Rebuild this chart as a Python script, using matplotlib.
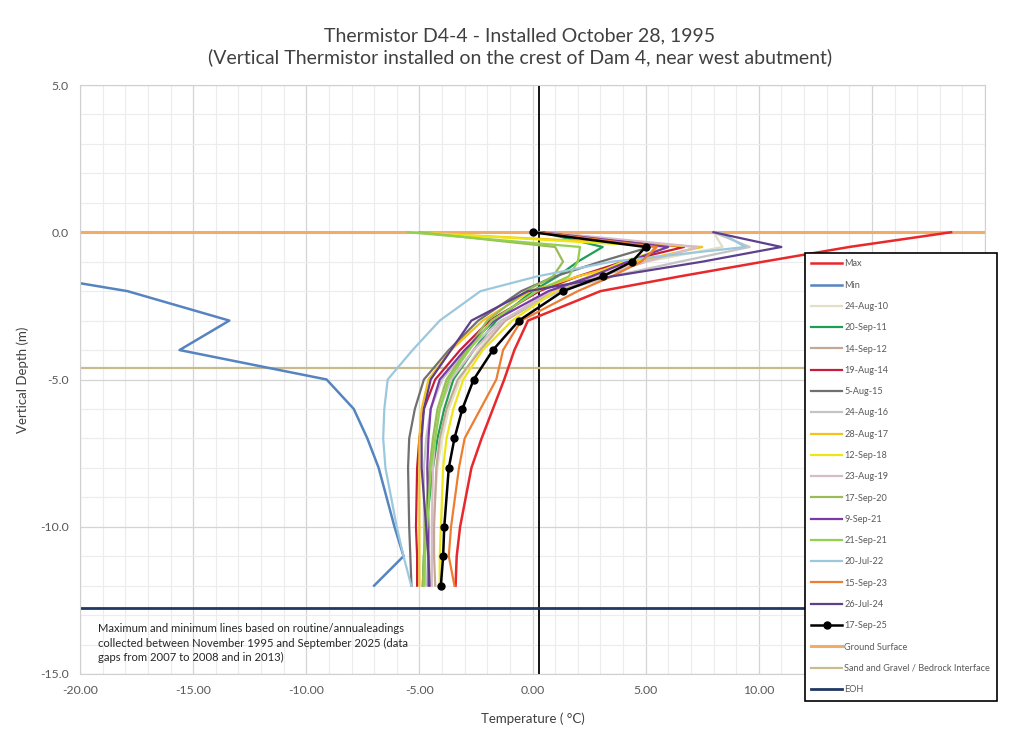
import numpy as np
import matplotlib
matplotlib.use("Agg")
import matplotlib.pyplot as plt
from matplotlib.ticker import MultipleLocator

plt.rcParams['font.family'] = ['Lato', 'DejaVu Sans']

# profundidades dos nós do termistor (m)
depths = [0, -0.5, -1, -1.5, -2, -3, -4, -5, -6, -7, -8, -10, -11, -12]

# temperaturas (°C) por leitura
t_max = [18.5, 14.0, 10.2, 6.5, 3.0, -0.2, -0.8, -1.25, -1.75, -2.25, -2.7, -3.2, -3.35, -3.4]
t_min = [-26.0, -25.0, -24.0, -21.8, -17.9, -13.4, -15.6, -9.1, -7.9, -7.3, -6.8, -6.1, -5.7, -7.0]
t_aug10 = [8.0, 8.4, 5.0, 2.5, 0.8, -1.3, -2.4, -3.2, -3.7, -4.0, -4.2, -4.4, -4.45, -4.5]
t_sep11 = [0.4, 3.1, 2.0, 1.1, 0.0, -1.6, -2.6, -3.5, -3.9, -4.2, -4.4, -4.7, -4.8, -4.85]
t_sep12 = [0.2, 5.4, 5.0, 3.0, 1.0, -1.2, -2.3, -3.3, -3.8, -4.1, -4.25, -4.35, -4.35, -4.3]
t_aug14 = [0.5, 6.7, 4.0, 2.0, 0.3, -1.9, -3.2, -4.3, -4.8, -5.0, -5.1, -5.15, -5.1, -5.1]
t_aug15 = [0.3, 5.2, 3.0, 1.0, -0.5, -2.4, -3.7, -4.8, -5.2, -5.45, -5.5, -5.45, -5.4, -5.35]
t_aug16 = [8.0, 9.6, 6.5, 3.5, 1.2, -1.4, -2.9, -4.0, -4.5, -4.7, -4.8, -4.8, -4.75, -4.7]
t_aug17 = [-5.5, 7.5, 4.5, 2.0, -0.1, -2.2, -3.6, -4.6, -4.9, -5.0, -5.0, -5.0, -5.0, -5.0]
t_sep18 = [-5.3, 6.0, 4.0, 2.5, 1.0, -0.9, -2.2, -3.06, -3.5, -3.8, -3.95, -4.05, -4.1, -4.1]
t_aug19 = [0.6, 7.3, 5.0, 2.8, 0.8, -1.3, -2.6, -3.6, -4.1, -4.3, -4.4, -4.45, -4.45, -4.45]
t_sep20 = [-5.0, 1.0, 1.35, 0.9, -0.3, -2.0, -2.9, -3.8, -4.2, -4.4, -4.55, -4.75, -4.8, -4.85]
t_sep21a = [0.4, 6.0, 4.2, 2.6, 0.7, -1.7, -3.0, -4.1, -4.5, -4.6, -4.65, -4.6, -4.6, -4.6]
t_sep21b = [-5.5, 2.1, 2.0, 1.6, 0.2, -1.8, -2.8, -3.7, -4.1, -4.3, -4.5, -4.65, -4.75, -4.8]
t_jul22 = [8.3, 9.4, 3.5, 0.2, -2.3, -4.1, -5.3, -6.4, -6.55, -6.6, -6.5, -6.0, -5.7, -5.36]
t_sep23 = [0.3, 5.5, 4.8, 3.5, 2.0, -0.5, -1.3, -1.6, -2.3, -3.0, -3.25, -3.6, -3.7, -3.45]
t_jul24 = [8.0, 11.0, 7.5, 3.5, -0.2, -2.7, -3.6, -4.5, -4.8, -4.9, -4.9, -4.7, -4.6, -4.55]
t_sep25 = [0.0, 5.0, 4.4, 3.1, 1.35, -0.6, -1.75, -2.6, -3.1, -3.45, -3.7, -3.9, -3.95, -4.05]

# linhas de referência (m)
ground_surface = 0.0
interface_depth = -4.6
eoh_depth = -12.75
zero_line = 0.3

series = [
    ("Max", t_max, "#e8282b", 1.8),
    ("Min", t_min, "#5584c0", 1.8),
    ("24-Aug-10", t_aug10, "#e2dfc4", 1.6),
    ("20-Sep-11", t_sep11, "#1e9e55", 1.6),
    ("14-Sep-12", t_sep12, "#c4a896", 1.6),
    ("19-Aug-14", t_aug14, "#c41e3a", 1.6),
    ("5-Aug-15", t_aug15, "#707070", 1.6),
    ("24-Aug-16", t_aug16, "#c4c4c4", 1.6),
    ("28-Aug-17", t_aug17, "#f5c21b", 1.6),
    ("12-Sep-18", t_sep18, "#eee614", 1.6),
    ("23-Aug-19", t_aug19, "#d6bcc6", 1.6),
    ("17-Sep-20", t_sep20, "#9bbb59", 1.6),
    ("9-Sep-21", t_sep21a, "#7a3aa6", 1.6),
    ("21-Sep-21", t_sep21b, "#92d050", 1.6),
    ("20-Jul-22", t_jul22, "#9cc8de", 1.6),
    ("15-Sep-23", t_sep23, "#ed7d31", 1.6),
    ("26-Jul-24", t_jul24, "#5e3f8c", 1.6),
]

fig = plt.figure(figsize=(10.09, 7.40), dpi=100)
ax = fig.add_axes([80 / 1009, 1 - 674 / 740, 905 / 1009, 589 / 740])

ax.set_xlim(-20, 20)
ax.set_ylim(-15, 5)
ax.xaxis.set_major_locator(MultipleLocator(5))
ax.xaxis.set_minor_locator(MultipleLocator(1))
ax.yaxis.set_major_locator(MultipleLocator(5))
ax.yaxis.set_minor_locator(MultipleLocator(1))
ax.grid(which='major', color='#d4d4d4', lw=0.9)
ax.grid(which='minor', color='#ececec', lw=0.8)
ax.set_axisbelow(True)
ax.tick_params(which='both', length=0, labelsize=8.8, colors='#595959', pad=8)
# 15.00 e 20.00 ficam escondidos atrás da legenda
ax.xaxis.set_major_formatter(lambda v, p: f"{v:.2f}" if v < 12 else "")
ax.yaxis.set_major_formatter(lambda v, p: f"{v:.1f}")
for s in ax.spines.values():
    s.set_color('#d0d0d0')
    s.set_linewidth(0.8)

ax.axvline(zero_line, color='black', lw=1.3, zorder=1)

handles = []
for nome, temps, cor, lw in series:
    h, = ax.plot(temps, depths, color=cor, lw=lw, label=nome, zorder=2)
    handles.append(h)
h, = ax.plot(t_sep25, depths, color='black', lw=1.8, marker='o', markersize=5,
             label='17-Sep-25', zorder=3)
handles.append(h)

h = ax.axhline(ground_surface, color='#f0ad6a', lw=2.2, label='Ground Surface', zorder=1.5)
handles.append(h)
h = ax.axhline(interface_depth, color='#c9bb8e', lw=1.6,
               label='Sand and Gravel / Bedrock Interface', zorder=1.5)
handles.append(h)
h = ax.axhline(eoh_depth, color='#1f3864', lw=2.0, label='EOH', zorder=1.5)
handles.append(h)

ax.set_xlabel('Temperature ( °C)', fontsize=9.5, color='#404040', labelpad=12)
ax.set_ylabel('Vertical Depth (m)', fontsize=9.5, color='#404040', labelpad=8)

fig.text(520 / 1009, 1 - 47 / 740,
         'Thermistor D4-4 - Installed October 28, 1995\n'
         '(Vertical Thermistor installed on the crest of Dam 4, near west abutment)',
         ha='center', va='center', fontsize=14, color='#404040', linespacing=1.25)

fig.text(98 / 1009, 1 - 623 / 740,
         'Maximum and minimum lines based on routine/annualeadings\n'
         'collected between November 1995 and September 2025 (data\n'
         'gaps from 2007 to 2008 and in 2013)',
         ha='left', va='top', fontsize=8.1, color='#262626', linespacing=1.4)

leg = fig.legend(handles=handles, loc='upper left',
                 bbox_to_anchor=(800 / 1009, 1 - 248 / 740),
                 fontsize=6.6, labelspacing=1.34, handlelength=3.3,
                 handletextpad=0.3, borderpad=0.75, fancybox=False,
                 framealpha=1, edgecolor='black', labelcolor='#595959')
leg.get_frame().set_linewidth(1.2)

fig.savefig('out.png', dpi=100)
